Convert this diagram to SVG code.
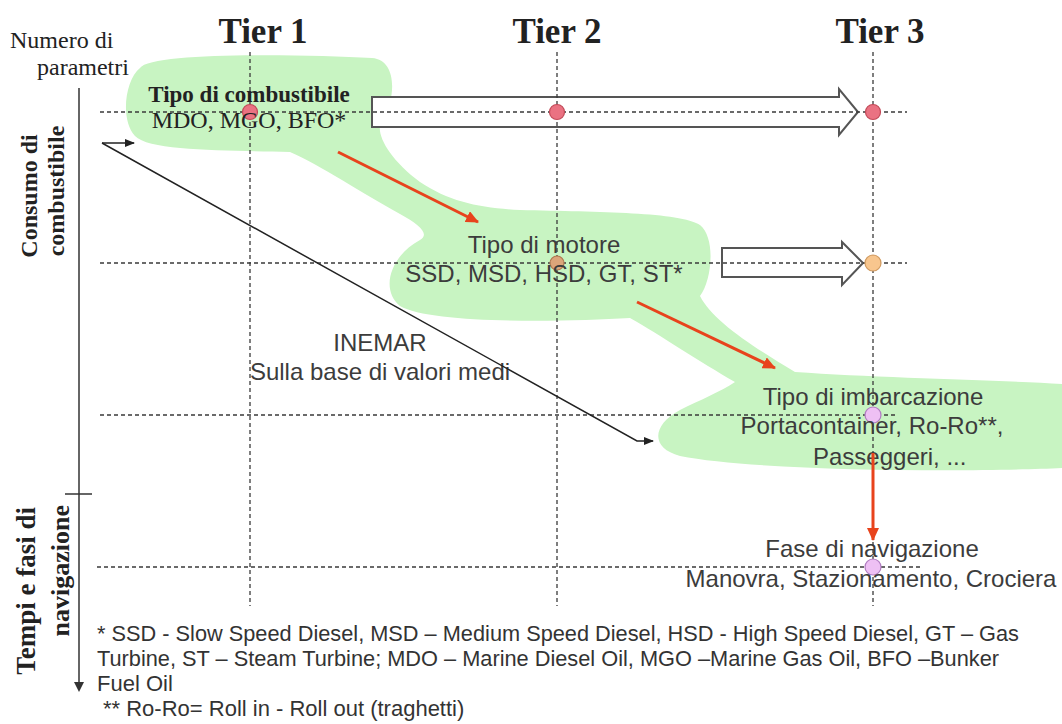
<svg xmlns="http://www.w3.org/2000/svg" width="1062" height="724" viewBox="0 0 1062 724">
<style>
.serif{font-family:"Liberation Serif","Times New Roman",serif;fill:#222}
.sans{font-family:"Liberation Sans",Arial,sans-serif;fill:#3c3c3c}
.dash{stroke:#3a3a3a;stroke-width:1.3;stroke-dasharray:4 3;fill:none}
.blk{stroke:#555;stroke-width:2;fill:#fff}
.red{stroke:#e8431c;stroke-width:3;fill:none}
.ink{stroke:#222;stroke-width:1.5;fill:none}
.foot{font-family:"Liberation Sans",Arial,sans-serif;fill:#333;font-size:22px}
</style>
<defs>
<marker id="rh" markerUnits="userSpaceOnUse" markerWidth="14" markerHeight="12" refX="12" refY="6" orient="auto">
<path d="M0,0 L13,6 L0,12 z" fill="#e8431c"/>
</marker>
<marker id="kh" markerUnits="userSpaceOnUse" markerWidth="10" markerHeight="8" refX="9" refY="4" orient="auto">
<path d="M0,0 L10,4 L0,8 z" fill="#222"/>
</marker>
</defs>
<rect width="1062" height="724" fill="#fff"/>

<g id="blobs">
<path fill="#c8f4c2" d="M140,68 C150,52 300,54 372,58 C398,60 396,100 382,120 C374,132 388,158 420,182 C450,202 480,208 520,210 C600,212 680,212 700,225 C716,238 712,280 700,296 C712,320 750,345 795,372 C880,378 1000,380 1062,384 L1062,468 C980,472 760,472 680,456 C650,448 652,425 680,410 C700,400 720,392 735,382 C700,362 660,335 630,318 C560,322 430,324 400,306 C380,290 390,256 420,240 C430,234 420,225 400,214 C360,192 322,166 290,152 C230,150 150,152 135,136 C120,120 125,80 140,68 Z"/>
</g>

<g id="block-arrows">
<path class="blk" d="M372,97 H839 V89 L858,112 L839,135 V127 H372 Z"/>
<path class="blk" d="M722,248 H842 V242 L863,263 L842,285 V277 H722 Z"/>
</g>

<g id="grid">
<line class="dash" x1="250" y1="52" x2="250" y2="606"/>
<line class="dash" x1="557" y1="52" x2="557" y2="606"/>
<line class="dash" x1="873" y1="52" x2="873" y2="606"/>
<line class="dash" x1="100" y1="112" x2="907" y2="112"/>
<line class="dash" x1="100" y1="263" x2="907" y2="263"/>
<line class="dash" x1="100" y1="415" x2="895" y2="415"/>
<line class="dash" x1="97" y1="567" x2="920" y2="567"/>
</g>

<g id="axis">
<line x1="79" y1="88" x2="79" y2="684" stroke="#333" stroke-width="1.5"/>
<path d="M74,682 L79,692 L84,682 z" fill="#333"/>
<line x1="65" y1="494" x2="92" y2="494" stroke="#333" stroke-width="1.5"/>
<text class="serif" x="10" y="48" font-size="24">Numero di</text>
<text class="serif" x="37" y="75" font-size="24">parametri</text>
<text class="serif" font-size="24" font-weight="bold" text-anchor="middle" transform="translate(37,196) rotate(-90)">Consumo di</text>
<text class="serif" font-size="24" font-weight="bold" text-anchor="middle" transform="translate(64,191) rotate(-90)">combustibile</text>
<text class="serif" font-size="27" font-weight="bold" text-anchor="end" transform="translate(35,507) rotate(-90)">Tempi e fasi di</text>
<text class="serif" font-size="26" font-weight="bold" text-anchor="end" transform="translate(69,505) rotate(-90)">navigazione</text>
</g>

<g id="titles">
<text class="serif" x="263" y="43" font-size="35" font-weight="bold" text-anchor="middle" fill="#1a1a1a">Tier 1</text>
<text class="serif" x="557" y="43" font-size="35" font-weight="bold" text-anchor="middle" fill="#1a1a1a">Tier 2</text>
<text class="serif" x="880" y="43" font-size="35" font-weight="bold" text-anchor="middle" fill="#1a1a1a">Tier 3</text>
</g>

<g id="dots">
<circle cx="250" cy="112" r="7.5" fill="#ea7282" stroke="#c24a58" stroke-width="1.2"/>
<circle cx="557" cy="112" r="7.5" fill="#ea7282" stroke="#c24a58" stroke-width="1.2"/>
<circle cx="873" cy="112" r="7.5" fill="#ea7282" stroke="#c24a58" stroke-width="1.2"/>
<circle cx="557" cy="263" r="7" fill="#dca57a" stroke="#b07850" stroke-width="1.2"/>
<circle cx="873" cy="263" r="8" fill="#f8c68e" stroke="#d09a60" stroke-width="1.2"/>
<circle cx="873" cy="415" r="8" fill="#eec0f4" stroke="#b07cc0" stroke-width="1.2"/>
<circle cx="873" cy="567" r="8" fill="#eec0f4" stroke="#b07cc0" stroke-width="1.2"/>
</g>

<g id="node-combustibile">
<text class="serif" x="249" y="102" font-size="23" font-weight="bold" text-anchor="middle" fill="#2e3b32">Tipo di combustibile</text>
<text class="serif" x="249" y="128" font-size="24" text-anchor="middle" fill="#2e3b32">MDO, MGO, BFO*</text>
</g>

<g id="node-motore">
<text class="sans" x="544" y="253" font-size="24" text-anchor="middle">Tipo di motore</text>
<text class="sans" x="544" y="282" font-size="24" text-anchor="middle">SSD, MSD, HSD, GT, ST*</text>
</g>

<g id="node-inemar">
<text class="sans" x="380" y="351" font-size="24" text-anchor="middle">INEMAR</text>
<text class="sans" x="380" y="380" font-size="24" text-anchor="middle">Sulla base di valori medi</text>
</g>

<g id="node-imbarcazione">
<text class="sans" x="873" y="405" font-size="24" text-anchor="middle">Tipo di imbarcazione</text>
<text class="sans" x="872" y="434" font-size="24" text-anchor="middle">Portacontainer, Ro-Ro**,</text>
<text class="sans" x="813" y="465" font-size="24">Passeggeri, ...</text>
</g>

<g id="node-navigazione">
<text class="sans" x="872" y="557" font-size="24" text-anchor="middle">Fase di navigazione</text>
<text class="sans" x="871" y="587" font-size="24" text-anchor="middle">Manovra, Stazionamento, Crociera</text>
</g>

<g id="connectors">
<line class="red" x1="338" y1="152" x2="478" y2="222" marker-end="url(#rh)"/>
<line class="red" x1="637" y1="302" x2="775" y2="368" marker-end="url(#rh)"/>
<line class="red" x1="873" y1="453" x2="873" y2="540" marker-end="url(#rh)"/>
<line class="ink" x1="102" y1="143" x2="134" y2="143" marker-end="url(#kh)"/>
<polyline class="ink" points="102,143 637,441 653,441" marker-end="url(#kh)"/>
</g>

<g id="footnotes">
<text class="foot" x="97" y="641" textLength="922" lengthAdjust="spacingAndGlyphs">* SSD - Slow Speed Diesel, MSD – Medium Speed Diesel, HSD - High Speed Diesel, GT – Gas</text>
<text class="foot" x="97" y="666" textLength="902" lengthAdjust="spacingAndGlyphs">Turbine, ST – Steam Turbine; MDO – Marine Diesel Oil, MGO –Marine Gas Oil, BFO –Bunker</text>
<text class="foot" x="97" y="691">Fuel Oil</text>
<text class="foot" x="103" y="716">** Ro-Ro= Roll in - Roll out (traghetti)</text>
</g>
</svg>
